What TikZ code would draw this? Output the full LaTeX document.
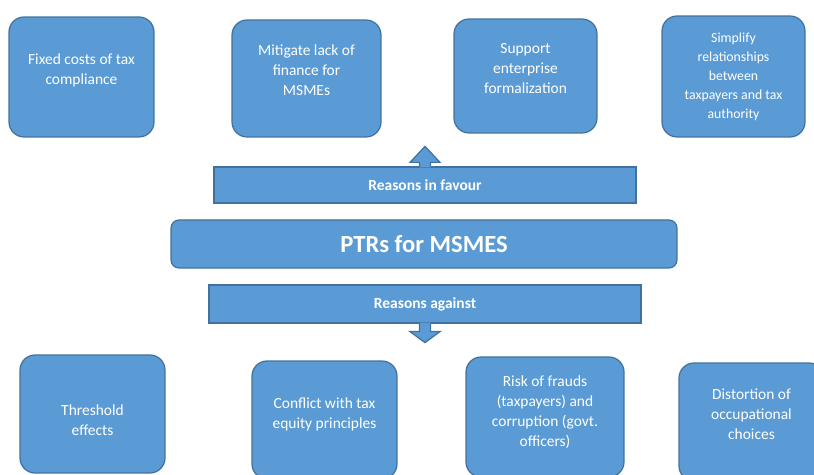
\documentclass[tikz,border=0pt]{standalone}
\usepackage{fontspec}
\setmainfont{Carlito}
\usetikzlibrary{calc,positioning}
\definecolor{boxblue}{RGB}{91,155,213}
\definecolor{edgeblue}{RGB}{65,113,156}

\begin{document}
\begin{tikzpicture}[x=0.02cm,y=-0.02cm,
  reason/.style={draw=edgeblue,fill=boxblue,line width=0.7pt,rounded corners=0.3cm,
    text=white,align=center,inner sep=2pt,font=\fontsize{8.8}{11.4}\selectfont},
  band/.style={draw=edgeblue,fill=boxblue,line width=0.7pt,text=white,
    font=\fontsize{8.8}{10}\selectfont\bfseries}]
  \useasboundingbox (0,0) rectangle (814,475);
  \clip (0,0) rectangle (814,475);

  % reasons in favour
  \node[reason,minimum width=2.9cm,minimum height=2.4cm,text depth=9pt] (fixed) at (81.5,77) {Fixed costs of tax\\compliance};
  \node[reason,minimum width=2.98cm,minimum height=2.34cm,text depth=9pt] (finance) at (306.5,78.5) {Mitigate lack of\\finance for\\MSMEs};
  \node[reason,minimum width=2.86cm,minimum height=2.28cm,text depth=9pt] (formal) at (525.5,76) {Support\\enterprise\\formalization};
  \node[reason,minimum width=2.86cm,minimum height=2.42cm,font=\fontsize{7.85}{10.8}\selectfont] (simplify) at (733.5,76.5) {Simplify\\relationships\\between\\taxpayers and tax\\authority};

  % centre
  \node[band,minimum width=8.44cm,minimum height=0.72cm] (favour) at (425,185) {Reasons in favour};
  \node[band,rounded corners=0.16cm,minimum width=10.12cm,minimum height=0.96cm,font=\fontsize{14}{16}\selectfont\bfseries] (ptr) at (424,244) {PTRs for MSMES};
  \node[band,minimum width=8.64cm,minimum height=0.76cm] (against) at (425,304) {Reasons against};

  % arrow heads on the bands
  \fill[boxblue] ($(favour.north)+(-5.5,1)$) -- ++(0,-5) -- ++(-9.5,0) -- ++(15,-16) -- ++(15,16) -- ++(-9.5,0) -- ++(0,5) -- cycle;
  \draw[edgeblue,line width=0.7pt,line join=miter] ($(favour.north)+(-5.5,0)$) -- ++(0,-4) -- ++(-9.5,0) -- ++(15,-16) -- ++(15,16) -- ++(-9.5,0) -- ++(0,4);
  \fill[boxblue] ($(against.south)+(-5.5,-1)$) -- ++(0,9) -- ++(-9.5,0) -- ++(15,11) -- ++(15,-11) -- ++(-9.5,0) -- ++(0,-9) -- cycle;
  \draw[edgeblue,line width=0.7pt,line join=miter] ($(against.south)+(-5.5,0)$) -- ++(0,8) -- ++(-9.5,0) -- ++(15,11) -- ++(15,-11) -- ++(-9.5,0) -- ++(0,-8);

  % reasons against
  \node[reason,minimum width=2.9cm,minimum height=2.36cm] (threshold) at (92.5,414) {\rule{0pt}{13pt}Threshold\\effects};
  \node[reason,minimum width=2.9cm,minimum height=2.36cm,text depth=7.5pt] (equity) at (324.5,420) {Conflict with tax\\equity principles};
  \node[reason,minimum width=3.16cm,minimum height=2.4cm,text depth=6.5pt] (fraud) at (545,417) {Risk of frauds\\(taxpayers) and\\corruption (govt.\\officers)};
  \node[reason,minimum width=2.9cm,minimum height=2.36cm,text depth=9pt] (occup) at (751.5,422) {Distortion of\\occupational\\choices};
\end{tikzpicture}
\end{document}
